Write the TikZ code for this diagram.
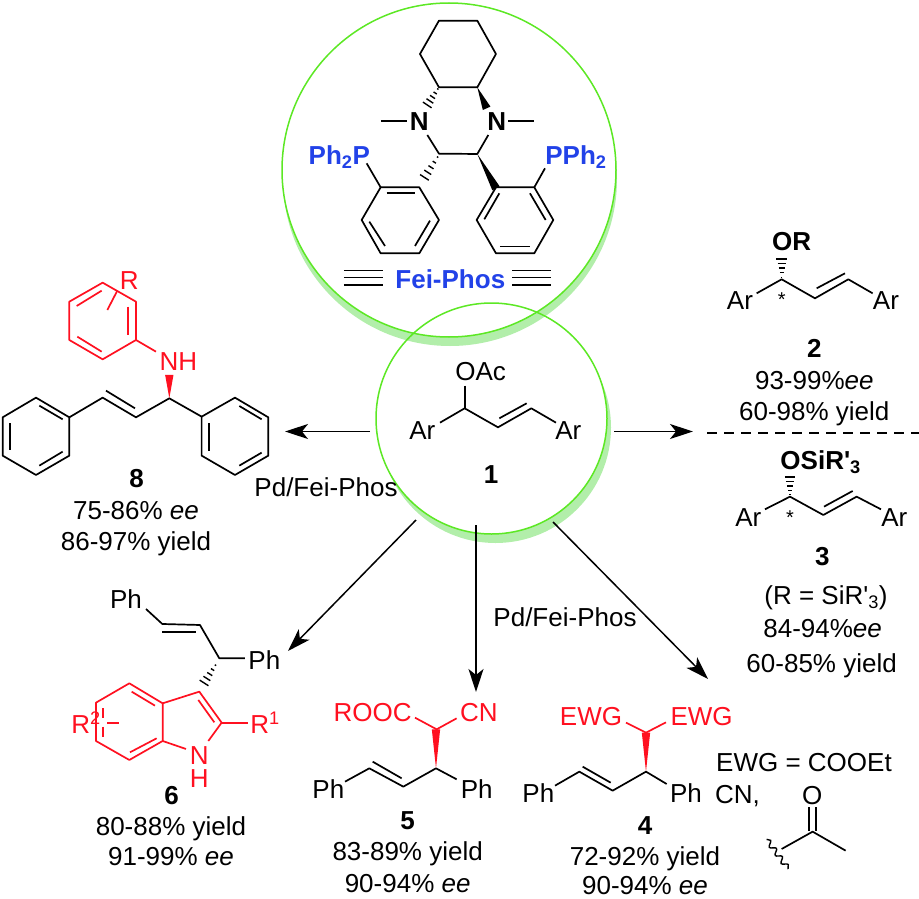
\documentclass[tikz,border=0pt]{standalone}
\usepackage{fontspec}
\setmainfont[Ligatures=TeXOff]{Liberation Sans}
\usetikzlibrary{calc, arrows.meta, decorations.pathmorphing}
\definecolor{ringgreen}{RGB}{92,232,36}
\definecolor{ringshade}{RGB}{178,238,170}
\definecolor{phosblue}{RGB}{34,66,232}
\definecolor{partred}{RGB}{255,16,32}
\tikzset{
	bond/.style={line width=1.7pt, line join=round},
	redbond/.style={bond, color=partred},
	lbl/.style={inner sep=0pt, text height=18.6pt, text depth=0pt, font=\fontsize{26}{30}\selectfont},
	redlbl/.style={lbl, text=partred},
	numlbl/.style={lbl, font=\fontsize{26}{30}\selectfont\bfseries},
	bluelbl/.style={numlbl, text=phosblue},
	thinlbl/.style={inner sep=0pt, font=\fontsize{20}{22}\selectfont},
	reaction/.style={line width=1.5pt, -{Stealth[length=23pt,width=15pt,inset=6pt]}}
}
% hashed and solid stereo bonds, narrow end first (sizes are in the scaled scope)
\newcommand{\hashbond}[2]{%
	\foreach \t/\w in {0.08/2.4,0.27/5.7,0.46/9,0.65/12.3,0.84/15.6,1/18.6}
		\draw[line width=1.4pt] ($(#1)!\t!(#2)!\w pt!90:(#2)$) -- ($(#1)!\t!(#2)!\w pt!-90:(#2)$);}
\newcommand{\wedgebond}[3][black]{%
	\fill[#1] (#2) -- ($(#3)!12.5pt!90:(#2)$) -- ($(#3)!12.5pt!-90:(#2)$) -- cycle;}
\begin{document}
\begin{tikzpicture}[x=1pt, y=-1pt]
	\useasboundingbox (0,0) rectangle (919,899);
	\coordinate (T) at (449,170);
	\coordinate (S) at (491.5,418.5);
	% the two discs with their pale rims
	\fill[ringshade] ([shift={(4,9)}]S) circle (115.5);
	\fill[white] (S) circle (115.5);
	\fill[ringshade] ([shift={(1,9)}]T) circle (167);
	\fill[white] (T) circle (167);
	\draw[ringgreen, line width=1.5pt] (S) circle (115.5);
	\draw[ringgreen, line width=1.5pt] (T) circle (167);

	\begin{scope}[shift={(240,0)}, scale=0.3333]	% Fei-Phos
	\draw[bond] (597,62) -- (712,62) -- (768,162) -- (712,262) -- (597,262) -- (540,162) -- cycle;
	\hashbond{597,262}{555,325}
	\wedgebond{712,262}{740,325}
	\draw[bond] (423,362) -- (500,362);
	\draw[bond] (805,362) -- (883,362);
	\draw[bond] (562,405) -- (597,461) -- (712,462) -- (745,405);
	\hashbond{597,465}{545,545}
	\wedgebond{712,462}{768,565}
	\draw[bond] (422,562) -- (538,562) -- (597,660) -- (538,760) -- (422,760) -- (365,660) -- cycle;
	\draw[bond] (440,580) -- (525,580);
	\draw[bond] (570,662) -- (525,738);
	\draw[bond] (388,665) -- (435,738);
	\draw[bond] (768,562) -- (883,562) -- (940,660) -- (883,760) -- (768,760) -- (710,660) -- cycle;
	\draw[bond] (778,580) -- (733,658);
	\draw[bond] (870,580) -- (917,660);
	\draw[bond] (780,740) -- (870,740);
	\draw[bond] (380,490) -- (422,562);
	\draw[bond] (915,505) -- (883,562);
	\node[numlbl] (nleft) at (538,365) {N};
	\node[numlbl] (nright) at (770,365) {N};
	\node[bluelbl] (pleft) at (298,465) {Ph\textsubscript{2}P};
	\node[bluelbl] (pright) at (1008,465) {PPh\textsubscript{2}};
	\node[bluelbl] (feiphos) at (631,838) {Fei-Phos};
	\foreach \y in {812,833,855} {
		\draw[line width=1.5pt] (312,\y) -- (428,\y);
		\draw[line width=1.5pt] (817,\y) -- (932,\y);
	}
	\end{scope}

	\begin{scope}[shift={(360,290)}, scale=0.3333]	% 1
	\draw[bond] (314,287) -- (314,355);
	\draw[bond] (240,398) -- (314,355) -- (414,412) -- (514,355) -- (588,398);
	\draw[bond] (418,385) -- (500,340);
	\node[lbl] (oac) at (362,245) {OAc};
	\node[lbl] (arone) at (187,420) {Ar};
	\node[lbl] (artwo) at (625,420) {Ar};
	\node[numlbl] (one) at (393,552) {1};
	\end{scope}

	\begin{scope}[shift={(0,260)}, scale=0.3333]	% 8
	\draw[redbond] (308,68) -- (408,125) -- (408,240) -- (308,298) -- (208,240) -- (208,125) -- cycle;
	\draw[redbond] (230,138) -- (305,92);
	\draw[redbond] (385,140) -- (385,225);
	\draw[redbond] (232,230) -- (305,275);
	\draw[redbond] (352,92) -- (322,150);
	\draw[redbond] (408,240) -- (468,275);
	\wedgebond[partred]{508,415}{508,345}
	\draw[bond] (108,413) -- (208,472) -- (208,587) -- (108,645) -- (8,587) -- (8,472) -- cycle;
	\draw[bond] (118,437) -- (188,478);
	\draw[bond] (188,575) -- (118,617);
	\draw[bond] (30,490) -- (30,570);
	\draw[bond] (208,472) -- (308,413) -- (408,472) -- (508,415) -- (605,470);
	\draw[bond] (318,392) -- (405,445);
	\draw[bond] (705,413) -- (805,472) -- (805,587) -- (705,645) -- (605,587) -- (605,470) -- cycle;
	\draw[bond] (718,438) -- (785,478);
	\draw[bond] (785,578) -- (718,617);
	\draw[bond] (628,490) -- (628,572);
	\node[redlbl] (rring) at (388,60) {R};
	\node[redlbl] (amine) at (535,305) {NH};
	\node[numlbl] (eight) at (410,655) {8};
	\end{scope}
	\node[lbl] (eightee) at (136,510) {75-86\% \textit{ee}};
	\node[lbl] (eightyield) at (136,541) {86-97\% yield};
	\node[lbl] (pdleft) at (326,487) {Pd/Fei-Phos};
	\node[lbl] (pdright) at (565,617) {Pd/Fei-Phos};

	\begin{scope}[shift={(620,120)}, scale=0.3333]	% 2
	\hashbond{485,478}{485,405}
	\draw[bond] (410,520) -- (485,478) -- (585,535) -- (685,478) -- (758,520);
	\draw[bond] (590,505) -- (675,460);
	\node[numlbl] (orgroup) at (515,365) {OR};
	\node[lbl] (arthree) at (360,540) {Ar};
	\node[lbl] (arfour) at (798,540) {Ar};
	\node[thinlbl] (stara) at (485,540) {*};
	\node[numlbl] (two) at (583,685) {2};
	\node[lbl] (twoee) at (583,780) {93-99\%\textit{ee}};
	\node[lbl] (twoyield) at (583,875) {60-98\% yield};
	\end{scope}

	\draw[line width=1.4pt, dash pattern=on 10pt off 7pt] (707,433) -- (919,433);

	\begin{scope}[shift={(620,390)}, scale=0.3333]	% 3
	\hashbond{510,320}{510,250}
	\draw[bond] (435,358) -- (510,320) -- (610,375) -- (710,320) -- (783,358);
	\draw[bond] (612,350) -- (698,303);
	\node[numlbl] (osilyl) at (602,210) {OSiR'\textsubscript{3}};
	\node[lbl] (arfive) at (385,382) {Ar};
	\node[lbl] (arsix) at (823,382) {Ar};
	\node[thinlbl] (starb) at (510,383) {*};
	\node[numlbl] (three) at (607,500) {3};
	\node[lbl] (threer) at (618,615) {(R = SiR'\textsubscript{3})};
	\node[lbl] (threeee) at (608,715) {84-94\%\textit{ee}};
	\node[lbl] (threeyield) at (605,820) {60-85\% yield};
	\end{scope}

	\begin{scope}[shift={(30,540)}, scale=0.3333]	% 6
	\draw[bond] (348,207) -- (397,252) -- (510,255) -- (568,355) -- (645,355);
	\draw[bond] (397,275) -- (497,275);
	\hashbond{560,370}{515,440}
	\draw[redbond] (398,490) -- (508,455) -- (575,548) -- (535,603);
	\draw[redbond] (505,480) -- (553,547);
	\draw[redbond] (468,627) -- (398,603);
	\draw[redbond] (575,548) -- (655,548);
	\draw[redbond] (398,490) -- (298,430) -- (198,488) -- (198,603) -- (298,660) -- (398,603) -- cycle;
	\draw[redbond] (305,455) -- (375,497);
	\draw[redbond] (380,595) -- (300,637);
	\draw[redbond] (218,505) -- (218,535);
	\draw[redbond] (218,560) -- (218,590);
	\draw[redbond] (232,548) -- (268,548);
	\node[lbl] (phtop) at (288,178) {Ph};
	\node[lbl] (phside) at (703,362) {Ph};
	\node[redlbl] (rtwo) at (168,553) {R\textsuperscript{2}};
	\node[redlbl] (rone) at (705,553) {R\textsuperscript{1}};
	\node[redlbl] (indn) at (508,645) {N};
	\node[redlbl] (indh) at (508,715) {H};
	\node[numlbl] (six) at (425,765) {6};
	\node[lbl] (sixyield) at (423,858) {80-88\% yield};
	\node[lbl] (sixee) at (423,950) {91-99\% \textit{ee}};
	\end{scope}

	\begin{scope}[shift={(300,640)}, scale=0.3333]	% 5
	\draw[redbond] (345,233) -- (410,268) -- (470,235);
	\wedgebond[partred]{408,385}{408,268}
	\draw[bond] (135,425) -- (208,385) -- (310,440) -- (408,385) -- (470,418);
	\draw[bond] (218,365) -- (305,415);
	\node[redlbl] (rooc) at (218,217) {ROOC};
	\node[redlbl] (cyano) at (537,217) {CN};
	\node[lbl] (phfive) at (85,447) {Ph};
	\node[lbl] (phsix) at (530,447) {Ph};
	\node[numlbl] (five) at (323,540) {5};
	\node[lbl] (fiveyield) at (323,635) {83-89\% yield};
	\node[lbl] (fiveee) at (323,730) {90-94\% \textit{ee}};
	\end{scope}

	\begin{scope}[shift={(540,670)}, scale=0.3333]	% 4
	\draw[redbond] (258,158) -- (318,188) -- (378,157);
	\wedgebond[partred]{318,305}{318,188}
	\draw[bond] (45,347) -- (118,305) -- (218,362) -- (318,305) -- (380,342);
	\draw[bond] (128,290) -- (212,338);
	\node[redlbl] (ewga) at (153,140) {EWG};
	\node[redlbl] (ewgb) at (485,140) {EWG};
	\node[lbl] (phseven) at (-5,370) {Ph};
	\node[lbl] (pheight) at (438,370) {Ph};
	\node[numlbl] (four) at (315,465) {4};
	\node[lbl] (fouryield) at (315,558) {72-92\% yield};
	\node[lbl] (fouree) at (315,646) {90-94\% \textit{ee}};
	\node[lbl] (ewgdef) at (792,277) {EWG = COOEt};
	\node[lbl, anchor=west] (cnlist) at (525,372) {CN,};
	\node[lbl] (oxo) at (817,375) {O};
	\draw[bond] (807,412) -- (807,482);
	\draw[bond] (829,412) -- (829,482);
	\draw[bond] (725,537) -- (818,485) -- (917,542);
	\draw[line width=1.4pt, decorate, decoration={snake, amplitude=2.6pt, segment length=10pt}] (680,508) -- (745,597);
	\end{scope}

	% reaction arrows
	\coordinate (leftfrom) at (370,431.5);
	\coordinate (lefttip) at (285,431.5);
	\coordinate (rightfrom) at (614,431.5);
	\coordinate (righttip) at (693,431.5);
	\coordinate (sixfrom) at (416,520);
	\coordinate (sixtip) at (288,651);
	\coordinate (fivefrom) at (476,525);
	\coordinate (fivetip) at (476,692);
	\coordinate (fourfrom) at (553,522);
	\coordinate (fourtip) at (708,679);
	\draw[reaction] (leftfrom) -- (lefttip);
	\draw[reaction] (rightfrom) -- (righttip);
	\draw[reaction] (sixfrom) -- (sixtip);
	\draw[reaction] (fivefrom) -- (fivetip);
	\draw[reaction] (fourfrom) -- (fourtip);
\end{tikzpicture}
\end{document}
